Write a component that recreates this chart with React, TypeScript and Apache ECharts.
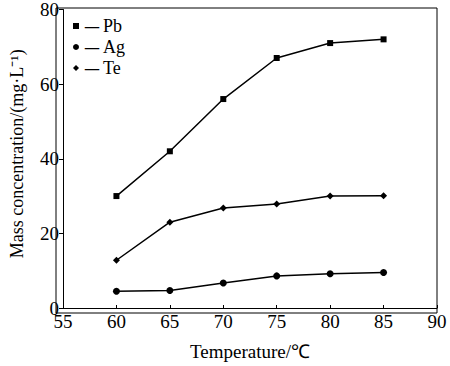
import React, { useEffect, useRef } from "react";
import * as echarts from "echarts";

const temps = [60, 65, 70, 75, 80, 85];
const pb = [30, 42, 56, 67, 71, 72];
const ag = [4.5, 4.7, 6.7, 8.6, 9.2, 9.5];
const te = [12.8, 23, 26.8, 27.9, 30, 30.1];
const seriesNames = ["Pb", "Ag", "Te"];

const FONT = "'Liberation Serif', 'Times New Roman', serif";

export default function App() {
  const ref = useRef<HTMLDivElement>(null);
  useEffect(() => {
    document.body.style.margin = "0";
    const chart = echarts.init(ref.current!, null, { renderer: "svg" });
    const mk = (name: string, vals: number[], symbol: string, size: number) => ({
      name,
      type: "line",
      data: temps.map((t, i) => [t, vals[i]]),
      symbol,
      symbolSize: size,
      lineStyle: { color: "#000", width: 1.5 },
      itemStyle: { color: "#000" },
    });
    chart.setOption({
      animation: false,
      backgroundColor: "#fff",
      textStyle: { fontFamily: FONT },
      grid: { left: 56, right: 13, top: 8, bottom: 53 },
      legend: {
        orient: "vertical",
        left: 73,
        top: 17,
        padding: 0,
        itemGap: 3,
        itemWidth: 6,
        itemHeight: 6,
        data: [
          { name: seriesNames[0], icon: "rect" },
          { name: seriesNames[1], icon: "circle" },
          { name: seriesNames[2], icon: "diamond" },
        ],
        formatter: (n: string) => "{d|—}{n|" + n + "}",
        textStyle: {
          fontFamily: FONT,
          fontSize: 18,
          color: "#000",
          rich: {
            d: { fontFamily: "'DejaVu Sans'", fontSize: 16, color: "#000", padding: [0, 3, 0, 0] },
            n: { fontFamily: FONT, fontSize: 18, color: "#000" },
          },
        },
      },
      xAxis: {
        type: "value",
        min: 55,
        max: 90,
        interval: 5,
        name: "Temperature/℃",
        nameLocation: "middle",
        nameGap: 34,
        nameTextStyle: { fontFamily: FONT, fontSize: 19, color: "#000" },
        axisLine: { lineStyle: { color: "#000", width: 1 } },
        axisTick: { show: true, inside: true, length: 3, lineStyle: { color: "#000" } },
        axisLabel: { fontFamily: FONT, fontSize: 19, color: "#000", margin: 4 },
        splitLine: { show: false },
      },
      yAxis: {
        type: "value",
        min: 0,
        max: 80,
        interval: 20,
        name: "Mass concentration/(mg·L⁻¹)",
        nameLocation: "middle",
        nameGap: 37,
        nameTextStyle: { fontFamily: FONT, fontSize: 18, color: "#000", padding: [0, 0, 0, 10] },
        axisLine: { lineStyle: { color: "#000", width: 1 } },
        axisTick: { show: true, length: 4, lineStyle: { color: "#000" } },
        axisLabel: { fontFamily: FONT, fontSize: 19, color: "#000", margin: 4 },
        splitLine: { show: false },
      },
      graphic: [
        {
          type: "rect",
          shape: { x: 56, y: 8, width: 381, height: 305 },
          style: { fill: "none", stroke: "#000", lineWidth: 1 },
          silent: true,
        },
      ],
      series: [
        mk(seriesNames[0], pb, "rect", 6),
        mk(seriesNames[1], ag, "circle", 7),
        mk(seriesNames[2], te, "diamond", 7),
      ],
    });
    return () => chart.dispose();
  }, []);
  return <div ref={ref} style={{ width: 450, height: 366 }} />;
}
